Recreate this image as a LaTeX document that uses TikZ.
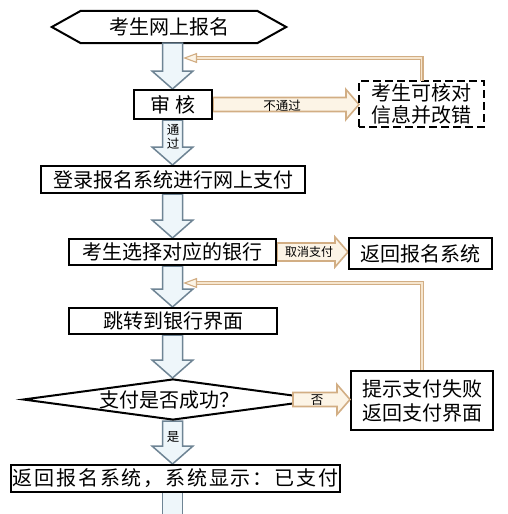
\documentclass[tikz,border=0pt]{standalone}
\usepackage{fontspec}
\setmainfont{Noto Sans CJK SC}
\usetikzlibrary{calc,arrows.meta,shapes.geometric}
\pgfdeclarelayer{background}
\pgfsetlayers{background,main}
\definecolor{bline}{HTML}{6E8494}
\definecolor{bfill}{HTML}{EEF6FA}
\definecolor{tline}{HTML}{D2AE84}
\definecolor{tfill}{HTML}{F6E6CF}
\definecolor{afill}{HTML}{FCF4E6}
\def\cx{172.5pt}
\tikzset{
  box/.style={draw=black, line width=2pt, fill=white, inner sep=0pt, font=\fontsize{20}{22}\selectfont},
  varrow/.style={draw=bline, fill=bfill, line width=1.5pt, line join=miter},
  harrow/.style={draw=tline, fill=afill, line width=1.6pt, line join=miter},
  small/.style={inner sep=0pt, font=\fontsize{12.5}{13}\selectfont},
  fb/.style={draw=tline, line width=1.1pt, double=tfill, double distance=1.8pt,
    -{Triangle[length=14pt,width=10pt,fill=afill]}},
}
\newcommand\vblock[2]{%
  \path[varrow] let \p1=(#1), \p2=(#2) in
   (\cx-10pt,\y1) -- (\cx-10pt,\y2+18pt) -- (\cx-20.5pt,\y2+18pt) -- (\cx,\y2)
   -- (\cx+20.5pt,\y2+18pt) -- (\cx+10pt,\y2+18pt) -- (\cx+10pt,\y1) -- cycle;}
\newcommand\hblock[3]{%
  \path[harrow] let \p1=(#1), \p2=(#2) in
   (\x1,\y1+#3) -- (\x2-13pt,\y1+#3) -- (\x2-13pt,\y1+15pt) -- (\x2,\y1)
   -- (\x2-13pt,\y1-15pt) -- (\x2-13pt,\y1-#3) -- (\x1,\y1-#3) -- cycle;}
\begin{document}
\begin{tikzpicture}[x=1pt,y=-1pt]
\begin{pgfonlayer}{background}
\fill[white] (0,0) rectangle (508,514);
\end{pgfonlayer}
\useasboundingbox (0,0) rectangle (508,514);

% hexagon start
\node[inner sep=0pt, minimum width=176pt, minimum height=32pt,
      font=\fontsize{20}{22}\selectfont] (hex) at (169,27) {考生网上报名};
\begin{pgfonlayer}{background}
\draw[line width=2pt, fill=white, line join=miter] (hex.north west) -- (hex.north east)
  -- ($(hex.east)+(29pt,0)$) -- (hex.south east) -- (hex.south west)
  -- ($(hex.west)+(-29pt,0)$) -- cycle;
\end{pgfonlayer}

\node[box, minimum width=78pt, minimum height=29pt] (shen) at (173,104.5) {审\hspace{5pt}核};
\node[box, draw=none, minimum width=123pt, minimum height=44pt, align=center,
      font=\fontsize{20}{21.5}\selectfont] (dashed) at (421.5,104) {考生可核对\\信息并改错};
\draw[line width=2.5pt, dash pattern=on 8pt off 4pt] (dashed.south west) rectangle (dashed.north east);
\node[box, minimum width=264pt, minimum height=27pt] (login) at (173,179.5) {登录报名系统进行网上支付};
\node[box, minimum width=207pt, minimum height=26pt] (bank) at (172.5,252) {考生选择对应的银行};
\node[box, minimum width=143pt, minimum height=31pt] (ret) at (420.5,253.5) {返回报名系统};
\node[box, minimum width=208pt, minimum height=26pt] (jump) at (173,321) {跳转到银行界面};
\node[diamond, draw=black, line width=2pt, fill=white, inner sep=0pt,
      minimum width=300pt, minimum height=41pt] (dia) at (173,399.5) {};
\node[inner sep=0pt, font=\fontsize{20}{22}\selectfont] (diatext) at (169,399.5) {支付是否成功？};
\node[box, minimum width=142pt, minimum height=59pt, align=center,
      font=\fontsize{20}{24}\selectfont] (fail) at (422,400.5) {提示支付失败\\返回支付界面};
\node[box, minimum width=329pt, minimum height=27pt] (final) at (175.5,478.5)
  {\addfontfeature{LetterSpace=9}返回报名系统，系统显示：已支付};

\coordinate (bottomend) at (172.5,518);
\coordinate (fb1end) at (183,58);
\coordinate (fb2end) at (183,283);

\begin{pgfonlayer}{background}
\vblock{hex.south}{shen.north}
\vblock{shen.south}{login.north}
\vblock{login.south}{bank.north}
\vblock{bank.south}{jump.north}
\vblock{jump.south}{dia.north}
\vblock{dia.south}{final.north}
\path[fill=bfill] let \p1=(final.south), \p2=(bottomend) in
  (\cx-10pt,\y1) rectangle (\cx+10pt,\y2);
\draw[bline, line width=1.5pt] let \p1=(final.south), \p2=(bottomend) in
  (\cx-10pt,\y1) -- (\cx-10pt,\y2) (\cx+10pt,\y1) -- (\cx+10pt,\y2);
\hblock{shen.east}{dashed.west}{7pt}
\hblock{bank.east}{ret.west}{9pt}
\end{pgfonlayer}

\hblock{$(dia.east)+(-31pt,0)$}{fail.west}{7pt}

% labels
\node[small] (lbl1) at (282,105.5) {不通过};
\node[small, align=center, font=\fontsize{12.5}{14}\selectfont] (lbl2) at (173,137) {通\\过};
\node[small, font=\fontsize{12}{13}\selectfont] (lbl3) at (309,252) {取消支付};
\node[small] (lbl4) at (317,400) {否};
\node[small] (lbl5) at (173,437) {是};

% feedback lines
\draw[fb] (dashed.north) |- (fb1end);
\draw[fb] (fail.north) |- (fb2end);
\end{tikzpicture}
\end{document}
